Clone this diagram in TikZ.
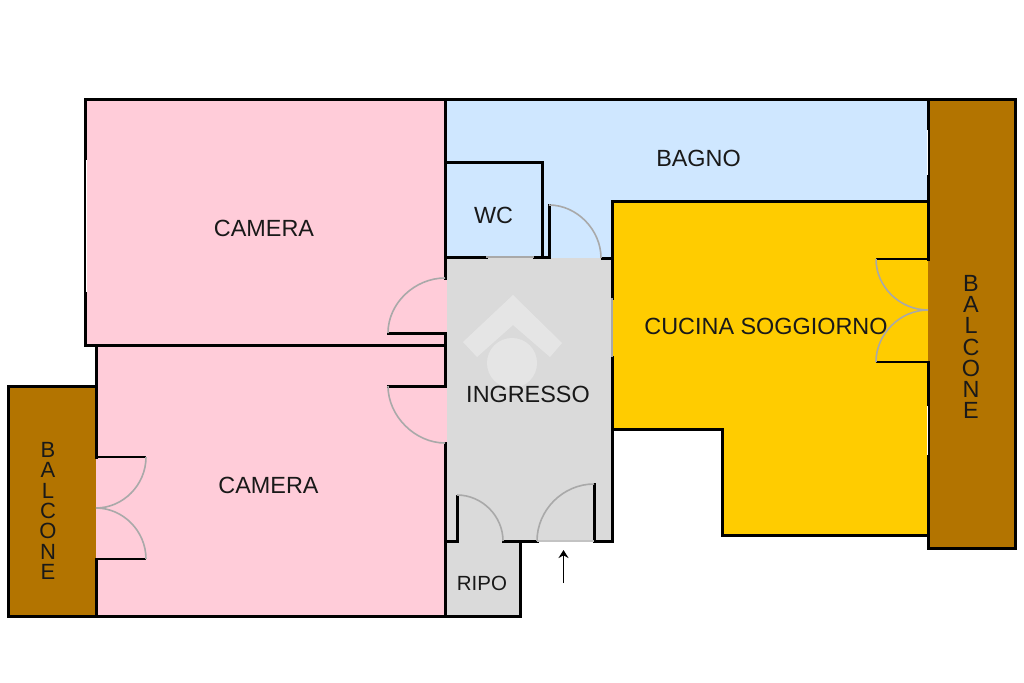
\documentclass[tikz,border=0pt]{standalone}
\usepackage{fontspec}
\usetikzlibrary{arrows.meta}
\setmainfont{Liberation Sans}
\definecolor{pinkroom}{HTML}{FFCCD9}
\definecolor{blueroom}{HTML}{CFE7FF}
\definecolor{yellowroom}{HTML}{FFCC00}
\definecolor{brownroom}{HTML}{B37400}
\definecolor{greyroom}{HTML}{DADADA}
\definecolor{doorgrey}{HTML}{A9A9A9}
\tikzset{
  wall/.style={draw=black,line width=3pt,line cap=rect,line join=miter},
  thinwall/.style={draw=black,line width=2.4pt},
  arcdoor/.style={draw=doorgrey,line width=1.6pt},
  glaze/.style={draw=white,line width=1pt},
  label/.style={font=\fontsize{23.4}{26}\selectfont,text=black!90,inner sep=0pt},
  vlabel/.style={font=\fontsize{22}{20.4}\selectfont,text=black!90,inner sep=0pt,align=center},
}
\begin{document}
\begin{tikzpicture}[x=1pt,y=-1pt]
\useasboundingbox (0,0) rectangle (1024,682);
% room fills
\fill[pinkroom] (86,99) rectangle (445,346);
\fill[pinkroom] (96,346) rectangle (447,616);
\fill[blueroom] (445,99) -- (928,99) -- (928,201) -- (612,201) -- (612,258) -- (445,258) -- cycle;
\fill[greyroom] (447,258) rectangle (612,541);
\fill[greyroom] (445,541) rectangle (520,616);
\fill[pinkroom] (388,278) rectangle (447,333);
\fill[pinkroom] (388,386) rectangle (447,443);
\fill[yellowroom] (612,201) -- (928,201) -- (928,535) -- (722,535) -- (722,429) -- (612,429) -- cycle;
\fill[yellowroom] (876,259) rectangle (930,362);
\fill[brownroom] (8,386) rectangle (96,616);
\fill[brownroom] (90,457) rectangle (96,559);
\fill[brownroom] (928,99) rectangle (1015.5,548.5);
% watermark
\fill[white,opacity=.3] (513,295) -- (562,343) -- (550,357) -- (513,325) -- (477,357) -- (463,342) -- cycle;
\fill[white,opacity=.3] (512,363) circle (25);
% camera walls
\draw[wall] (445,278) -- (445,99.5) -- (85.5,99.5) -- (85.5,345.5) -- (445,345.5) -- (445,333);
\draw[wall] (445,345.5) -- (445,386);
\draw[wall] (388,333) -- (445,333);
\draw[wall] (388,386) -- (445,386);
\draw[wall] (445,443) -- (445,616) -- (8,616) -- (8,386.5) -- (96,386.5) -- (96,457);
\draw[wall] (96,346) -- (96,386);
\draw[wall] (96,559) -- (96,616);
\draw[thinwall] (96,457) -- (146,457);
\draw[thinwall] (96,559) -- (146,559);
% top and right
\draw[wall] (445,99.5) -- (1015.5,99.5) -- (1015.5,548.5) -- (928,548.5) -- (928,362);
\draw[wall] (928,259) -- (928,99.5);
\draw[wall] (612,258) -- (612,201) -- (928,201);
\draw[wall] (612,258) -- (612,298);
\draw[wall] (612,357) -- (612,541);
\draw[wall] (612,429) -- (722,429) -- (722,535) -- (928,535);
\draw[thinwall] (876,259) -- (928,259);
\draw[thinwall] (876,362) -- (928,362);
% wc
\draw[wall] (445,162) -- (542,162) -- (542,257);
\draw[wall] (445,257) -- (486,257);
\draw[wall] (534,257) -- (549,257) -- (549,205);
\draw[draw=doorgrey,line width=1.5pt] (486,257) -- (534,257);
\draw[wall] (602,258) -- (612,258);
% lower entrance
\draw[wall] (445,541) -- (457,541) -- (457,496);
\draw[wall] (503,541) -- (537,541);
\draw[wall] (594,484) -- (594,541) -- (612,541);
\draw[wall] (520,541) -- (520,616) -- (445,616);
\draw[draw=doorgrey!70,line width=1.2pt] (537,541) -- (594,541);
% windows
\draw[draw=doorgrey,line width=1.6pt] (612,298) -- (612,357);
\draw[glaze] (927,130) -- (927,175);
\draw[glaze] (927,406) -- (927,455);
\draw[glaze] (86.3,160) -- (86.3,292);
% door arcs
\draw[arcdoor] (388,333) .. controls (388,303) and (415,278) .. (445,278);
\draw[arcdoor] (388,386) .. controls (388,416) and (415,443) .. (445,443);
\draw[arcdoor] (549,205) .. controls (577,205) and (601,230) .. (601,258);
\draw[arcdoor] (457,495) .. controls (482,495) and (503,516) .. (503,541);
\draw[arcdoor] (537,541) .. controls (537,510) and (563,484) .. (594,484);
\draw[arcdoor] (146,457) .. controls (146,485) and (123,508) .. (96,508);
\draw[arcdoor] (146,559) .. controls (146,531) and (123,508) .. (96,508);
\draw[arcdoor] (876,259) .. controls (876,287) and (900,310) .. (928,310);
\draw[arcdoor] (876,362) .. controls (876,334) and (900,310) .. (928,310);
% arrow
\coordinate (arrowfoot) at (563.5,583);
\coordinate (arrowhead) at (563.5,550);
\draw[-{Stealth[length=8pt,width=10pt]},line width=1.4pt] (arrowfoot) -- (arrowhead);
% labels
\node[label] (camera1) at (264,228) {CAMERA};
\node[label] (camera2) at (268.5,485) {CAMERA};
\node[label] (bagno) at (698.5,158) {BAGNO};
\node[label] (wc) at (493.5,215.5) {WC};
\node[label] (ingresso) at (528,394) {INGRESSO};
\node[label] (cucina) at (766,326) {CUCINA SOGGIORNO};
\node[label,font=\fontsize{20.5}{24}\selectfont] (ripo) at (482,583) {RIPO};
\node[vlabel] (balcone1) at (48,511) {B\\A\\L\\C\\O\\N\\E};
\node[vlabel,font=\fontsize{23.4}{21.3}\selectfont] (balcone2) at (971,347) {B\\A\\L\\C\\O\\N\\E};
\end{tikzpicture}
\end{document}
